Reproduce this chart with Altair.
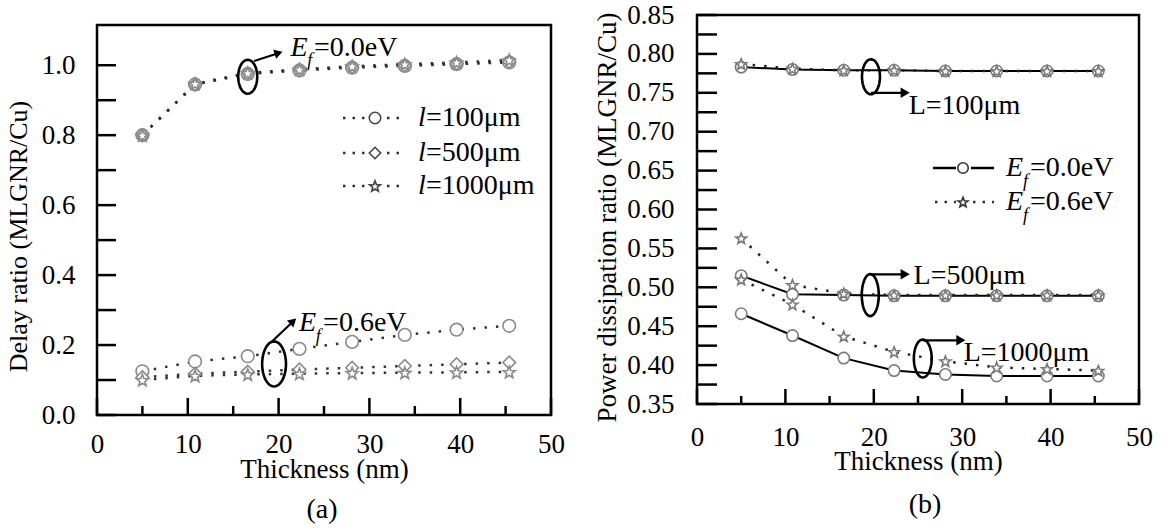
import math
import altair as alt
import pandas as pd

FONT = "Times New Roman, Liberation Serif, serif"

# ---------------- data ----------------
thickness = [5.0, 10.8, 16.6, 22.3, 28.1, 33.9, 39.6, 45.4]

# (a) Delay ratio (MLGNR/Cu)
delay_ef00_l100 = [0.800, 0.945, 0.975, 0.985, 0.993, 0.998, 1.003, 1.008]
delay_ef00_l500 = [0.800, 0.945, 0.977, 0.987, 0.995, 1.000, 1.005, 1.010]
delay_ef00_l1000 = [0.800, 0.947, 0.978, 0.988, 0.997, 1.003, 1.008, 1.015]
delay_ef06_l100 = [0.125, 0.153, 0.168, 0.189, 0.209, 0.229, 0.244, 0.255]
delay_ef06_l500 = [0.108, 0.118, 0.124, 0.130, 0.135, 0.140, 0.145, 0.150]
delay_ef06_l1000 = [0.100, 0.112, 0.116, 0.118, 0.120, 0.121, 0.122, 0.123]

# (b) Power dissipation ratio (MLGNR/Cu)
power_L100_ef00 = [0.783, 0.780, 0.779, 0.779, 0.778, 0.778, 0.778, 0.778]
power_L100_ef06 = [0.787, 0.781, 0.779, 0.779, 0.778, 0.778, 0.778, 0.778]
power_L500_ef00 = [0.515, 0.491, 0.490, 0.489, 0.489, 0.489, 0.489, 0.489]
power_L500_ef06 = [0.563, 0.503, 0.492, 0.490, 0.490, 0.490, 0.490, 0.490]
power_L1000_ef00 = [0.466, 0.438, 0.409, 0.393, 0.388, 0.386, 0.386, 0.386]
power_L1000_ef06 = [0.510, 0.478, 0.437, 0.417, 0.405, 0.397, 0.395, 0.393]

lengths_a = ["l=100μm", "l=500μm", "l=1000μm"]
x_ticks = [0, 10, 20, 30, 40, 50]
x_minor = [5, 15, 25, 35, 45]
y_labels_a = [0.0, 0.2, 0.4, 0.6, 0.8, 1.0]
y_ticks_a = [0.0, 0.1, 0.2, 0.3, 0.4, 0.5, 0.6, 0.7, 0.8, 0.9, 1.0]
y_labels_b = [0.35, 0.40, 0.45, 0.50, 0.55, 0.60, 0.65, 0.70, 0.75, 0.80, 0.85]
y_ticks_b = [0.35, 0.375, 0.40, 0.425, 0.45, 0.475, 0.50, 0.525, 0.55, 0.575,
             0.60, 0.625, 0.65, 0.675, 0.70, 0.725, 0.75, 0.775, 0.80, 0.825, 0.85]


# ---------------- shapes ----------------
def star_path(r_in=0.42):
    pts = []
    for i in range(10):
        r = 1.0 if i % 2 == 0 else r_in
        a = -math.pi / 2 + i * math.pi / 5
        pts.append(f"{r*math.cos(a):.3f},{r*math.sin(a)+0.1:.3f}")
    return "M" + " L".join(pts) + " Z"


def ellipse_path(a, n=48):
    pts = [f"{a*math.sin(2*math.pi*i/n):.3f},{-math.cos(2*math.pi*i/n):.3f}" for i in range(n)]
    return "M" + " L".join(pts) + " Z"


STAR = star_path()

# ---------------- tables ----------------
rows_a = []
for ef, series in [("0.0", [delay_ef00_l100, delay_ef00_l500, delay_ef00_l1000]),
                   ("0.6", [delay_ef06_l100, delay_ef06_l500, delay_ef06_l1000])]:
    for lab, vals in zip(lengths_a, series):
        for xv, yv in zip(thickness, vals):
            rows_a.append({"x": xv, "y": yv, "l": lab, "series": ef + lab})
df_a = pd.DataFrame(rows_a)

rows_b = []
for L, s0, s6 in [("100", power_L100_ef00, power_L100_ef06),
                  ("500", power_L500_ef00, power_L500_ef06),
                  ("1000", power_L1000_ef00, power_L1000_ef06)]:
    for xv, y0, y6 in zip(thickness, s0, s6):
        rows_b.append({"x": xv, "y": y0, "ef": "0.0", "series": "0.0-" + L})
        rows_b.append({"x": xv, "y": y6, "ef": "0.6", "series": "0.6-" + L})
df_b = pd.DataFrame(rows_b)
df_b0 = df_b[df_b.ef == "0.0"]
df_b6 = df_b[df_b.ef == "0.6"]

axis_common = dict(domain=False, grid=False, ticks=False,
                   labelFont=FONT, labelFontSize=27, labelColor="black",
                   labelOverlap=False, labelFlush=False,
                   titleFont=FONT, titleFontWeight="normal", titleColor="black")

# ---------------- panel (a) ----------------
W_A, H_A = 454, 390
xs_a = alt.Scale(domain=[0, 50], nice=False, zero=False)
ys_a = alt.Scale(domain=[0, 1.115], nice=False, zero=False)
x_axis_a = alt.Axis(values=x_ticks, format="d", labelPadding=16, titleFontSize=27,
                    title="Thickness (nm)", titlePadding=-1, **axis_common)
y_axis_a = alt.Axis(values=y_labels_a, format=".1f", labelPadding=22, titleFontSize=26,
                    title="Delay ratio (MLGNR/Cu)", titlePadding=10, titleY=211,
                    **axis_common)


def XA(f):
    return alt.X(f, scale=xs_a, axis=x_axis_a)


def YA(f):
    return alt.Y(f, scale=ys_a, axis=y_axis_a)


def PIXY(f):
    return alt.Y(f, scale=None, axis=None)


lines_a = alt.Chart(df_a).mark_line(color="#333333", strokeDash=[2.5, 9],
                                    strokeWidth=2.5).encode(x=XA("x:Q"), y=YA("y:Q"),
                                                            detail="series:N")
points_a = alt.Chart(df_a).mark_point(filled=True, fill="white", stroke="#8a8a8a",
                                      strokeWidth=1.6, opacity=1, size=160).encode(
    x=XA("x:Q"), y=YA("y:Q"),
    shape=alt.Shape("l:N", scale=alt.Scale(domain=lengths_a, range=["circle", "diamond", STAR]),
                    legend=None))

# inward tick marks (a), drawn through the panel scales
ppx_a, ppy_a = W_A / 50, H_A / 1.115
xt_a = pd.DataFrame({"x": x_ticks + x_minor,
                     "y0": [0.0] * 11,
                     "y1": [17 / ppy_a] * 6 + [9 / ppy_a] * 5})
yt_a = pd.DataFrame({"y": y_ticks_a, "x0": [0.0] * len(y_ticks_a),
                     "x1": [19 / ppx_a] * len(y_ticks_a)})
ticks_a = alt.layer(
    alt.Chart(xt_a).mark_rule(color="black", strokeWidth=2.5).encode(
        x=XA("x:Q"), y=YA("y0:Q"), y2="y1:Q"),
    alt.Chart(yt_a).mark_rule(color="black", strokeWidth=2.5).encode(
        y=YA("y:Q"), x=XA("x0:Q"), x2="x1:Q"),
)

ell_a = pd.DataFrame({"x": [16.6, 19.5], "y": [0.967, 0.146]})
ellipses_a = alt.layer(
    alt.Chart(ell_a.iloc[[0]]).mark_point(shape=ellipse_path(0.56), size=34 * 34, filled=False,
                                          stroke="black", strokeWidth=2.6, opacity=1).encode(
        x=XA("x:Q"), y=YA("y:Q")),
    alt.Chart(ell_a.iloc[[1]]).mark_point(shape=ellipse_path(0.53), size=45 * 45, filled=False,
                                          stroke="black", strokeWidth=2.6, opacity=1).encode(
        x=XA("x:Q"), y=YA("y:Q")),
)
arr_a = pd.DataFrame({"x": [17.3, 19.27], "y": [1.012, 0.21],
                      "x2": [19.7, 21.3], "y2": [1.032, 0.26],
                      "hx": [20.0, 21.6], "hy": [1.035, 0.268], "ang": [72, 47]})
arrows_a = alt.layer(
    alt.Chart(arr_a).mark_rule(color="black", strokeWidth=2.2).encode(
        x=XA("x:Q"), y=YA("y:Q"), x2="x2:Q", y2="y2:Q"),
    alt.Chart(arr_a).mark_point(shape="triangle-up", filled=True, color="black", size=90,
                                opacity=1).encode(
        x=XA("hx:Q"), y=YA("hy:Q"), angle=alt.Angle("ang:Q", scale=None)),
)

txt_main_a = pd.DataFrame({"x": [21.3, 22.25], "y": [1.025, 0.24], "E": ["E", "E"],
                           "t": ["=0.0eV", "=0.6eV"], "fx": [23.15, 24.1], "fy": [0.997, 0.208],
                           "tx": [23.9, 24.9]})
texts_a = alt.layer(
    alt.Chart(txt_main_a).mark_text(font=FONT, fontSize=28, fontStyle="italic", align="left",
                                    baseline="alphabetic", color="black").encode(
        x=XA("x:Q"), y=YA("y:Q"), text="E:N"),
    alt.Chart(txt_main_a).mark_text(font=FONT, fontSize=18, fontStyle="italic", align="left",
                                    baseline="alphabetic", color="black", text="f").encode(
        x=XA("fx:Q"), y=YA("fy:Q")),
    alt.Chart(txt_main_a).mark_text(font=FONT, fontSize=28, align="left",
                                    baseline="alphabetic", color="black").encode(
        x=XA("tx:Q"), y=YA("y:Q"), text="t:N"),
)

# legend (a), pixel layout
leg_a = pd.DataFrame({"l": lengths_a, "rest": ["=100μm", "=500μm", "=1000μm"],
                      "yy": [93, 128, 161]})
legend_a = alt.layer(
    alt.Chart(leg_a).mark_rule(color="#333333", strokeDash=[2.5, 7], strokeWidth=2.5).encode(
        x=alt.value(246), x2=alt.value(268), y=PIXY("yy:Q")),
    alt.Chart(leg_a).mark_rule(color="#333333", strokeDash=[2.5, 7], strokeWidth=2.5).encode(
        x=alt.value(290), x2=alt.value(306), y=PIXY("yy:Q")),
    alt.Chart(leg_a).mark_point(filled=True, fill="white", stroke="#444444", strokeWidth=1.6,
                                opacity=1, size=130).encode(
        x=alt.value(278), y=PIXY("yy:Q"),
        shape=alt.Shape("l:N", scale=alt.Scale(domain=lengths_a,
                                               range=["circle", "diamond", STAR]), legend=None)),
    alt.Chart(leg_a).mark_text(font=FONT, fontSize=28, fontStyle="italic", align="left",
                               baseline="middle", color="black", text="l").encode(
        x=alt.value(321), y=PIXY("yy:Q")),
    alt.Chart(leg_a).mark_text(font=FONT, fontSize=28, align="left", baseline="middle",
                               color="black").encode(
        x=alt.value(329), y=PIXY("yy:Q"), text="rest:N"),
)

panel_a = alt.layer(lines_a, points_a, ellipses_a, arrows_a, texts_a, legend_a,
                    ticks_a).properties(
    width=W_A, height=H_A,
    title=alt.TitleParams("(a)", orient="bottom", font=FONT, fontSize=28, fontWeight="normal",
                          color="black", offset=14, frame="group", dx=-2))

# empty strip that lowers panel (a) relative to panel (b)
spacer = alt.Chart(pd.DataFrame({"v": [0]})).mark_point(opacity=0, size=1).encode(
    x=alt.value(2), y=alt.value(3)).properties(
    width=W_A, height=6, view=alt.ViewBackground(stroke="transparent"))

left = alt.vconcat(spacer, panel_a, spacing=0)

# ---------------- panel (b) ----------------
W_B, H_B = 442, 389
xs_b = alt.Scale(domain=[0, 50], nice=False, zero=False)
ys_b = alt.Scale(domain=[0.35, 0.85], nice=False, zero=False)
x_axis_b = alt.Axis(values=x_ticks, format="d", labelPadding=20, titleFontSize=27,
                    title="Thickness (nm)", titlePadding=-2, **axis_common)
y_axis_b = alt.Axis(values=y_labels_b, format=".2f", labelPadding=23, titleFontSize=27,
                    title="Power dissipation ratio (MLGNR/Cu)", titlePadding=5, titleY=202,
                    **axis_common)


def XB(f):
    return alt.X(f, scale=xs_b, axis=x_axis_b)


def YB(f):
    return alt.Y(f, scale=ys_b, axis=y_axis_b)


lines_b0 = alt.Chart(df_b0).mark_line(color="black", strokeWidth=2).encode(
    x=XB("x:Q"), y=YB("y:Q"), detail="series:N")
lines_b6 = alt.Chart(df_b6).mark_line(color="#222222", strokeDash=[2.5, 9], strokeWidth=2.5).encode(
    x=XB("x:Q"), y=YB("y:Q"), detail="series:N")
points_b = alt.Chart(df_b).mark_point(filled=True, fill="white", stroke="#7a7a7a",
                                      strokeWidth=1.6, opacity=1, size=130).encode(
    x=XB("x:Q"), y=YB("y:Q"),
    shape=alt.Shape("ef:N", scale=alt.Scale(domain=["0.0", "0.6"], range=["circle", STAR]),
                    legend=None))

ppx_b, ppy_b = W_B / 50, H_B / 0.5
xt_b = pd.DataFrame({"x": x_ticks + x_minor,
                     "y0": [0.35] * 11,
                     "y1": [0.35 + 15 / ppy_b] * 6 + [0.35 + 8 / ppy_b] * 5})
yt_b = pd.DataFrame({"y": y_ticks_b, "x0": [0.0] * len(y_ticks_b),
                     "x1": [20 / ppx_b] * len(y_ticks_b)})
ticks_b = alt.layer(
    alt.Chart(xt_b).mark_rule(color="black", strokeWidth=2.5).encode(
        x=XB("x:Q"), y=YB("y0:Q"), y2="y1:Q"),
    alt.Chart(yt_b).mark_rule(color="black", strokeWidth=2.5).encode(
        y=YB("y:Q"), x=XB("x0:Q"), x2="x1:Q"),
)

ell_b = [(19.68, 0.7706, 0.514, 35), (19.6, 0.490, 0.405, 42), (25.54, 0.4085, 0.47, 38)]
ellipses_b = alt.layer(*[
    alt.Chart(pd.DataFrame({"x": [ex], "y": [ey]})).mark_point(
        shape=ellipse_path(ea), size=eh * eh, filled=False, stroke="black",
        strokeWidth=2.6, opacity=1).encode(x=XB("x:Q"), y=YB("y:Q"))
    for ex, ey, ea, eh in ell_b])

arr_b = pd.DataFrame({"x": [19.68, 19.6, 25.54], "x2": [23.2, 23.2, 29.5],
                      "y": [0.750, 0.5167, 0.4319], "hx": [23.55, 23.55, 29.85]})
arrows_b = alt.layer(
    alt.Chart(arr_b).mark_rule(color="black", strokeWidth=2.2).encode(
        x=XB("x:Q"), x2="x2:Q", y=YB("y:Q")),
    alt.Chart(arr_b).mark_point(shape="triangle-right", filled=True, color="black", size=110,
                                opacity=1).encode(x=XB("hx:Q"), y=YB("y:Q")),
)
lab_b = pd.DataFrame({"x": [23.95, 24.5, 30.17], "y": [0.7227, 0.504, 0.405],
                      "t": ["L=100μm", "L=500μm", "L=1000μm"]})
labels_b = alt.Chart(lab_b).mark_text(font=FONT, fontSize=28, align="left",
                                      baseline="alphabetic", color="black").encode(
    x=XB("x:Q"), y=YB("y:Q"), text="t:N")

# legend (b), pixel layout
leg_b = pd.DataFrame({"ef": ["0.0", "0.6"], "t": ["=0.0eV", "=0.6eV"], "yy": [153, 187],
                      "fy": [172, 206]})
legend_b = alt.layer(
    alt.Chart(leg_b.iloc[[0]]).mark_rule(color="black", strokeWidth=2.5).encode(
        x=alt.value(236), x2=alt.value(259), y=PIXY("yy:Q")),
    alt.Chart(leg_b.iloc[[0]]).mark_rule(color="black", strokeWidth=2.5).encode(
        x=alt.value(274), x2=alt.value(297), y=PIXY("yy:Q")),
    alt.Chart(leg_b.iloc[[1]]).mark_rule(color="#333333", strokeDash=[2.5, 7], strokeWidth=2.5).encode(
        x=alt.value(238), x2=alt.value(259), y=PIXY("yy:Q")),
    alt.Chart(leg_b.iloc[[1]]).mark_rule(color="#333333", strokeDash=[2.5, 7], strokeWidth=2.5).encode(
        x=alt.value(276), x2=alt.value(297), y=PIXY("yy:Q")),
    alt.Chart(leg_b).mark_point(filled=True, fill="white", stroke="#333333", strokeWidth=1.6,
                                opacity=1, size=110).encode(
        x=alt.value(266), y=PIXY("yy:Q"),
        shape=alt.Shape("ef:N", scale=alt.Scale(domain=["0.0", "0.6"], range=["circle", STAR]),
                        legend=None)),
    alt.Chart(leg_b).mark_text(font=FONT, fontSize=28, fontStyle="italic", align="left",
                               baseline="middle", color="black", text="E").encode(
        x=alt.value(309), y=PIXY("yy:Q")),
    alt.Chart(leg_b).mark_text(font=FONT, fontSize=18, fontStyle="italic", align="left",
                               baseline="alphabetic", color="black", text="f").encode(
        x=alt.value(326), y=PIXY("fy:Q")),
    alt.Chart(leg_b).mark_text(font=FONT, fontSize=28, align="left", baseline="middle",
                               color="black").encode(
        x=alt.value(333), y=PIXY("yy:Q"), text="t:N"),
)

panel_b = alt.layer(lines_b0, lines_b6, points_b, ellipses_b, arrows_b, labels_b,
                    legend_b, ticks_b).properties(
    width=W_B, height=H_B,
    title=alt.TitleParams("(b)", orient="bottom", font=FONT, fontSize=28, fontWeight="normal",
                          color="black", offset=17, frame="group", dx=7))

chart = alt.hconcat(left, panel_b, spacing=26).resolve_scale(
    shape="independent", x="independent", y="independent"
).properties(
    padding={"left": 4, "top": -1, "right": 0, "bottom": 0},
    background="white",
).configure_view(stroke="black", strokeWidth=2.5).configure_title(anchor="middle")

chart.save("out.html", embed_options={"renderer": "svg", "actions": False})
